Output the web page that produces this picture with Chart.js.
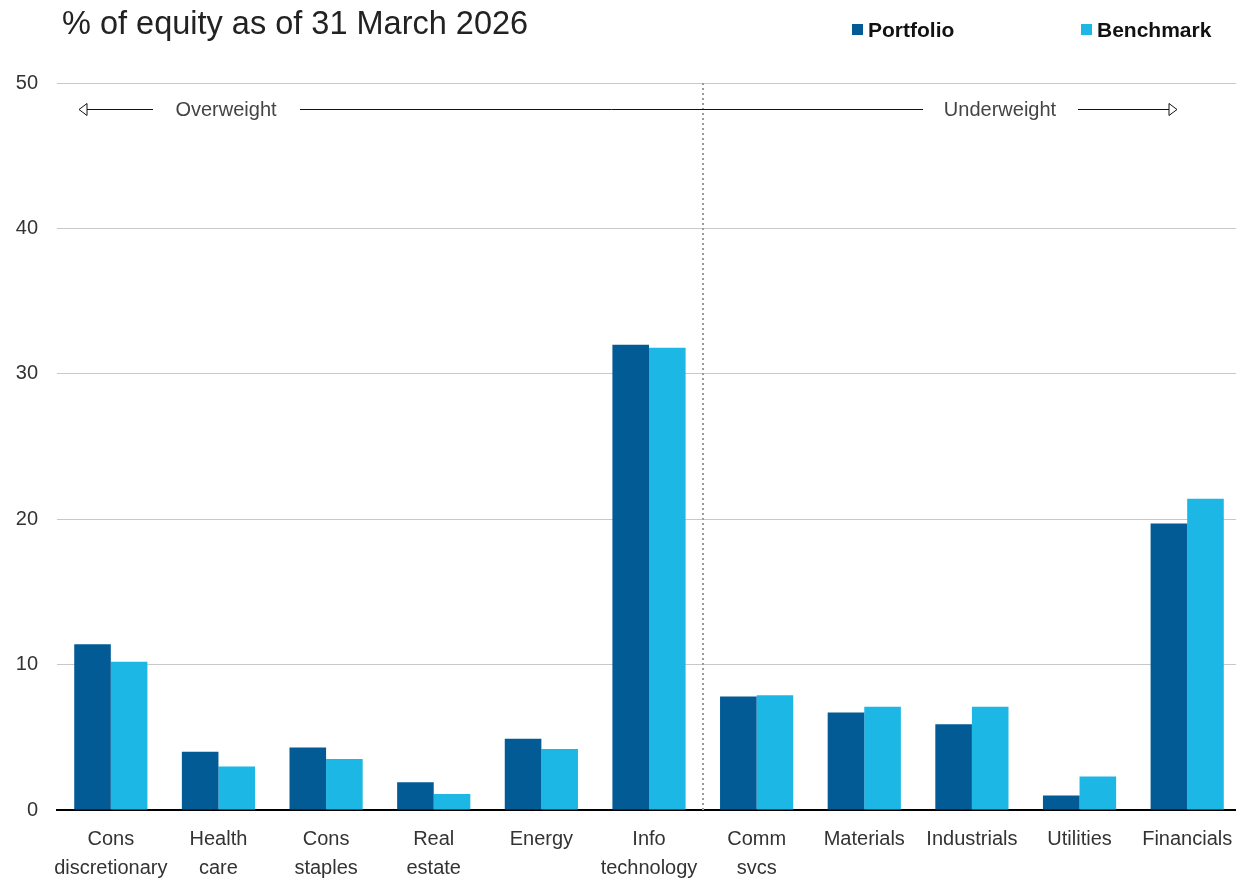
<!DOCTYPE html>
<html>
<head>
<meta charset="utf-8">
<script src="https://cdn.jsdelivr.net/npm/chart.js@4.4.1/dist/chart.umd.min.js"></script>
<style>
  html, body { margin: 0; padding: 0; background: #fff; overflow: hidden; }
  #wrap { width: 1236px; height: 885px; overflow: hidden; }
  /* plot runs a few px past the right edge, as in the printed version */
  #sector-chart { display: block; }
</style>
</head>
<body>
<div id="wrap"><canvas id="sector-chart" width="1241" height="885"></canvas></div>
<script>
const TITLE = '% of equity as of 31 March 2026';
const sectors = [
  ['Cons', 'discretionary'], ['Health', 'care'], ['Cons', 'staples'], ['Real', 'estate'],
  'Energy', ['Info', 'technology'], ['Comm', 'svcs'], 'Materials', 'Industrials',
  'Utilities', 'Financials'
];
const portfolio = [11.4, 4.0, 4.3, 1.9, 4.9, 32.0, 7.8, 6.7, 5.9, 1.0, 19.7];
const benchmark = [10.2, 3.0, 3.5, 1.1, 4.2, 31.8, 7.9, 7.1, 7.1, 2.3, 21.4];
const yTicks = [0, 10, 20, 30, 40, 50];
const lastOverweight = 5; // Info technology, divider goes right after it
const arrowLabels = ['Overweight', 'Underweight'];

const FONT = '"Liberation Sans", Arial, sans-serif';

// title + legend row
const header = {
  id: 'header',
  afterDraw(chart) {
    const ctx = chart.ctx;
    ctx.save();
    ctx.textBaseline = 'alphabetic';
    ctx.textAlign = 'left';
    ctx.fillStyle = '#222';
    ctx.font = '32.5px ' + FONT;
    ctx.fillText(TITLE, 62, 34);

    ctx.font = 'bold 21px ' + FONT;
    const slots = [852, 1081];
    chart.data.datasets.forEach((ds, i) => {
      ctx.fillStyle = ds.backgroundColor;
      ctx.fillRect(slots[i], 24, 11, 11);
      ctx.fillStyle = '#111';
      ctx.fillText(ds.label, slots[i] + 16, 37);
    });
    ctx.restore();
  }
};

// dotted divider and the overweight / underweight arrows
const weightArrows = {
  id: 'weightArrows',
  afterDatasetsDraw(chart) {
    const { ctx, chartArea: a, scales: { x } } = chart;
    const splitX = Math.round(x.getPixelForValue(lastOverweight + 0.5));
    ctx.save();
    ctx.strokeStyle = '#9c9c9c';
    ctx.lineWidth = 2;
    ctx.setLineDash([2, 3]);
    ctx.beginPath();
    ctx.moveTo(splitX, a.top);
    ctx.lineTo(splitX, a.bottom);
    ctx.stroke();
    ctx.setLineDash([]);

    const ay = 109.5;
    ctx.font = '20px ' + FONT;
    ctx.fillStyle = '#444';
    ctx.textBaseline = 'middle';
    ctx.textAlign = 'center';
    ctx.fillText(arrowLabels[0], 226, ay + 1);
    ctx.fillText(arrowLabels[1], 1000, ay + 1);

    const leftTip = 79, rightTip = 1177;
    ctx.strokeStyle = '#111';
    ctx.lineWidth = 1;
    ctx.beginPath();
    ctx.moveTo(leftTip + 8, ay); ctx.lineTo(153, ay);
    ctx.moveTo(300, ay); ctx.lineTo(923, ay);
    ctx.moveTo(1078, ay); ctx.lineTo(rightTip - 8, ay);
    ctx.stroke();

    // open arrow heads
    ctx.fillStyle = '#fff';
    ctx.beginPath();
    ctx.moveTo(leftTip, ay); ctx.lineTo(leftTip + 8, ay - 6); ctx.lineTo(leftTip + 8, ay + 6); ctx.closePath();
    ctx.moveTo(rightTip, ay); ctx.lineTo(rightTip - 8, ay - 6); ctx.lineTo(rightTip - 8, ay + 6); ctx.closePath();
    ctx.fill();
    ctx.stroke();
    ctx.restore();
  }
};

new Chart(document.getElementById('sector-chart'), {
  type: 'bar',
  data: {
    labels: sectors,
    datasets: [
      { label: 'Portfolio', data: portfolio, backgroundColor: '#035b96' },
      { label: 'Benchmark', data: benchmark, backgroundColor: '#1cb7e4' }
    ]
  },
  options: {
    responsive: false,
    animation: false,
    layout: { padding: { top: 83, right: 0, bottom: 0, left: 0 } },
    datasets: { bar: { categoryPercentage: 0.68, barPercentage: 1.0 } },
    plugins: {
      legend: { display: false },
      title: { display: false },
      tooltip: { enabled: false }
    },
    scales: {
      x: {
        grid: { display: false, drawTicks: false },
        border: { display: true, color: '#000', width: 2 },
        ticks: {
          color: '#333',
          padding: 15,
          maxRotation: 0,
          autoSkip: false,
          font: { family: FONT, size: 20, lineHeight: 1.45 }
        },
        afterFit(scale) {
          scale.height = 75;
          scale.paddingLeft = 0;
          scale.paddingRight = 0;
        }
      },
      y: {
        min: 0,
        max: 50,
        afterBuildTicks(scale) { scale.ticks = yTicks.map(v => ({ value: v })); },
        grid: {
          drawTicks: false,
          color: ctx => ctx.tick && ctx.tick.value === 0 ? 'rgba(0,0,0,0)' : '#c8c8c8',
          lineWidth: 1
        },
        border: { display: false },
        ticks: {
          color: '#333',
          padding: 19,
          font: { family: FONT, size: 20 }
        },
        afterFit(scale) { scale.width = 57; }
      }
    }
  },
  plugins: [weightArrows, header]
});
</script>
</body>
</html>
